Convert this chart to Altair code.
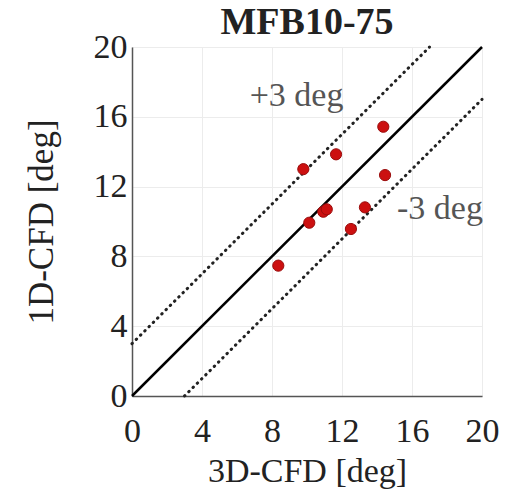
import altair as alt
import pandas as pd

# Data
x_3d = [14.36, 11.66, 9.79, 14.46, 13.31, 10.93, 11.13, 10.13, 12.51, 8.36]
y_1d = [15.43, 13.85, 13.00, 12.66, 10.81, 10.56, 10.70, 9.93, 9.57, 7.47]
offsets = [0, 3, -3]
tick_values = [0, 4, 8, 12, 16, 20]
ann_text = ["+3 deg", "-3 deg"]
ann_x = [9.4, 17.6]
ann_y = [17.2, 10.7]

FONT = "Times New Roman"
LO, HI = 0, 20

pts = pd.DataFrame({"x": x_3d, "y": y_1d})

rows = []
for o in offsets:
    x0 = max(LO, LO - o)
    x1 = min(HI, HI - o)
    rows.append({"x": x0, "y": x0 + o, "off": o})
    rows.append({"x": x1, "y": x1 + o, "off": o})
lines = pd.DataFrame(rows)
ann = pd.DataFrame({"t": ann_text, "x": ann_x, "y": ann_y})

xs = alt.Scale(domain=[LO, HI], nice=False, zero=False)
ys = alt.Scale(domain=[LO, HI], nice=False, zero=False)

xax = alt.Axis(values=tick_values, title="3D-CFD [deg]", grid=True, gridColor="#ececec",
               ticks=False, domain=True, domainColor="#555", domainWidth=1.5,
               labelFont=FONT, labelFontSize=34, labelColor="#222", labelPadding=18,
               labelFlush=False,
               titleFont=FONT, titleFontSize=34, titleFontWeight="normal", titleColor="#222",
               titlePadding=6)
yax = alt.Axis(values=tick_values, title="1D-CFD [deg]", grid=True, gridColor="#ececec",
               ticks=False, domain=True, domainColor="#555", domainWidth=1.5,
               labelFont=FONT, labelFontSize=34, labelColor="#222", labelPadding=5,
               labelFlush=False,
               titleFont=FONT, titleFontSize=35, titleFontWeight="normal", titleColor="#222",
               titlePadding=34)

base_x = alt.X("x:Q", scale=xs, axis=xax)
base_y = alt.Y("y:Q", scale=ys, axis=yax)

solid = alt.Chart(lines).transform_filter("datum.off == 0").mark_line(
    color="black", strokeWidth=2.5
).encode(x=base_x, y=base_y, detail="off:N")

dotted = alt.Chart(lines).transform_filter("datum.off != 0").mark_line(
    color="#222", strokeWidth=3, strokeDash=[0.5, 5.5], strokeCap="round"
).encode(x=alt.X("x:Q", scale=xs), y=alt.Y("y:Q", scale=ys), detail="off:N")

points = alt.Chart(pts).mark_point(
    filled=True, color="#cc1010", stroke="#9a0c0c", strokeWidth=1, size=125, opacity=1, shape="circle"
).encode(x=alt.X("x:Q", scale=xs), y=alt.Y("y:Q", scale=ys))

text = alt.Chart(ann).mark_text(
    font=FONT, fontSize=34, color="#555", align="center", baseline="middle"
).encode(x=alt.X("x:Q", scale=xs), y=alt.Y("y:Q", scale=ys), text="t:N")

chart = alt.layer(solid, dotted, points, text).properties(
    width=350, height=349,
    title=alt.TitleParams("MFB10-75", font=FONT, fontSize=38, fontWeight="bold",
                          color="#222", anchor="middle", offset=-12),
    autosize=alt.AutoSizeParams(type="none"),
    padding={"left": 132, "top": 47, "right": 41, "bottom": 100},
).configure_view(stroke="#555", strokeWidth=1.5).configure(background="white")

chart.save("out.html", embed_options={"renderer": "svg", "actions": False})
